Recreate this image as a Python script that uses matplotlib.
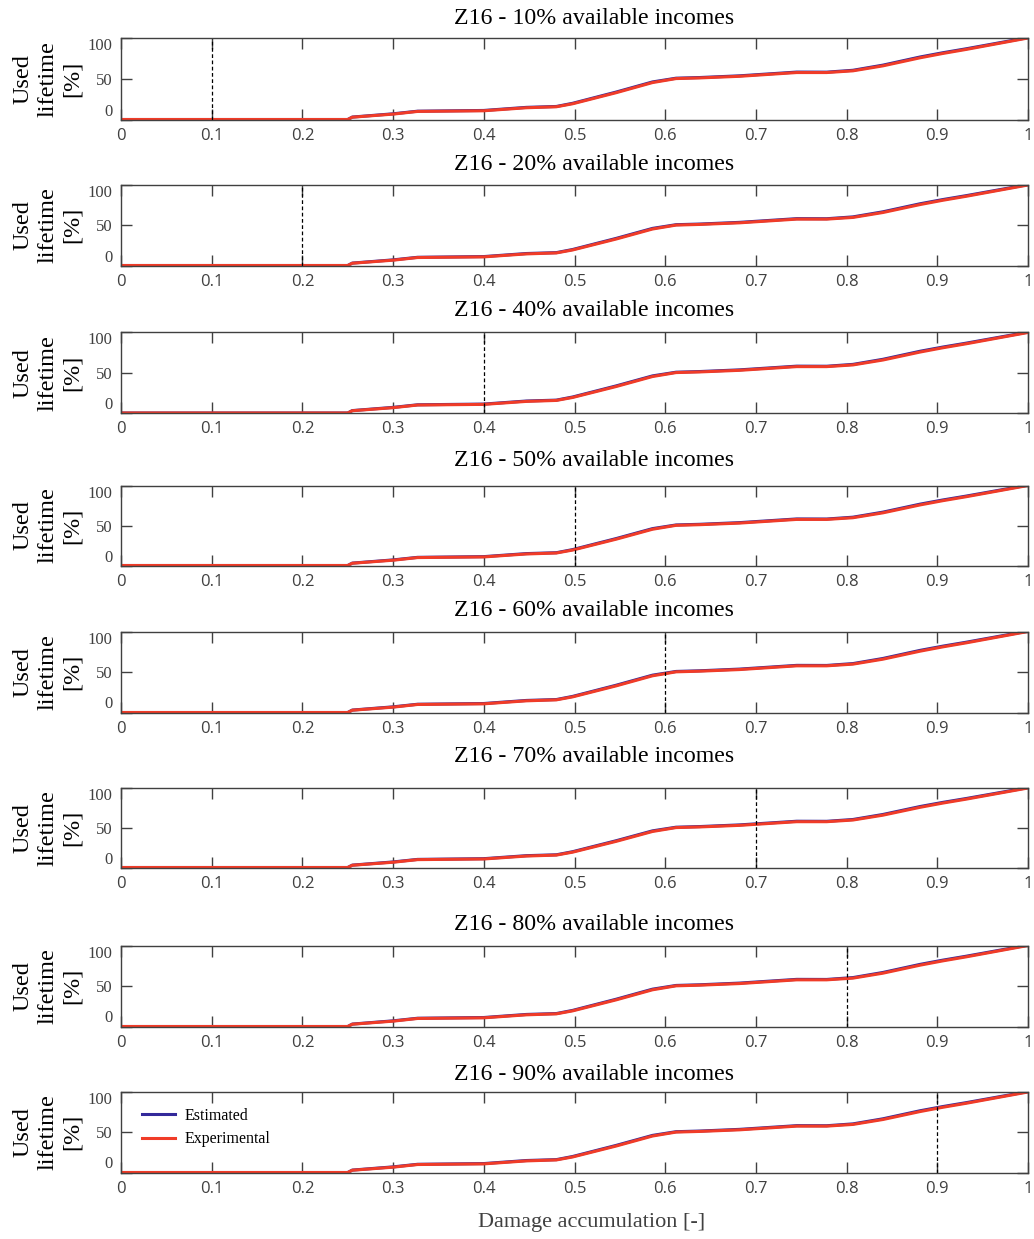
import numpy as np
import matplotlib
matplotlib.use("Agg")
from matplotlib import pyplot as plt

# damage accumulation vs used lifetime (same curve for every income share)
damage = [0, 0.25, 0.255, 0.30, 0.327, 0.40, 0.447, 0.48, 0.498, 0.546, 0.586,
          0.612, 0.638, 0.682, 0.745, 0.778, 0.807, 0.84, 0.881, 0.906, 0.932, 1.0]
experimental = [0, 0, 2.8, 6.6, 9.9, 10.7, 14.4, 15.6, 19.3, 32.9, 45.3,
                50.2, 51.0, 53.0, 57.6, 57.6, 59.7, 65.8, 75.7, 81.0, 86.0, 100]
estimated = [0, 0, 3.0, 7.0, 10.2, 11.1, 14.9, 16.0, 19.9, 33.7, 46.1,
             50.7, 51.5, 53.6, 58.2, 58.1, 60.4, 66.7, 76.7, 81.9, 86.8, 100.5]

incomes = [10, 20, 40, 50, 60, 70, 80, 90]
thresholds = [0.1, 0.2, 0.4, 0.5, 0.6, 0.7, 0.8, 0.9]
xticks = [0, 0.1, 0.2, 0.3, 0.4, 0.5, 0.6, 0.7, 0.8, 0.9, 1]
xticklabels = ["0", "0.1", "0.2", "0.3", "0.4", "0.5", "0.6", "0.7", "0.8", "0.9", "1"]

W, H = 1034, 1239
# axes top/bottom and title centre, in pixels from the top
tops = [38, 185, 332.5, 485.5, 631.5, 788, 945.5, 1092]
bottoms = [119.5, 265.5, 413, 565.5, 712.5, 867.5, 1026.5, 1172.5]
title_y = [19, 164, 311, 461, 611, 756, 924, 1075]
left, right = 121, 1028

SERIF = "Liberation Serif"
SANS = "Open Sans"
GRAY = "#404040"
BLUE = "#33299a"
RED = "#f03c28"

fig = plt.figure(figsize=(W / 100, H / 100), dpi=100)

for i, (pct, thr) in enumerate(zip(incomes, thresholds)):
    ax = fig.add_axes([left / W, 1 - bottoms[i] / H,
                       (right - left) / W, (bottoms[i] - tops[i]) / H])
    ax.plot(damage, estimated, color=BLUE, lw=2.2, label="Estimated")
    ax.plot(damage, experimental, color=RED, lw=2.2, label="Experimental")
    ax.axvline(thr, color="k", ls=(0, (3, 2)), lw=0.9)
    ax.set_xlim(0, 1)
    ax.set_ylim(0, 100)

    ax.set_xticks(xticks)
    ax.set_xticklabels(xticklabels, family=SANS, fontsize=12, color=GRAY)
    ax.set_yticks([0, 50, 100])
    ax.set_yticklabels(["0", "50", "100"], family=SERIF, fontsize=12, color=GRAY)
    ylab = ax.get_yticklabels()
    ylab[0].set_va("bottom")
    ylab[2].set_va("top")
    ax.tick_params(direction="in", length=8, width=1, color=GRAY,
                   top=True, right=True, pad=6)
    for sp in ax.spines.values():
        sp.set_color(GRAY)
        sp.set_linewidth(1)

    ax.set_ylabel("Used\nlifetime\n[%]", family=SERIF, fontsize=17.5,
                  linespacing=1.22)
    ax.yaxis.set_label_coords(-0.042, 0.5)

    fig.text(594 / W, 1 - title_y[i] / H, f"Z16 - {pct}% available incomes",
             family=SERIF, fontsize=17.2, ha="center", va="center")

    if i == len(incomes) - 1:
        ax.legend(loc="upper left", frameon=False, prop={"family": SERIF, "size": 11.5},
                  handlelength=2.1, handletextpad=0.6, borderaxespad=0.6,
                  labelspacing=0.45, bbox_to_anchor=(0.005, 1.0))

fig.text(592 / W, 1 - 1222 / H, "Damage accumulation [-]", family=SERIF,
         fontsize=16, color=GRAY, ha="center", va="center")

fig.savefig("out.png", dpi=100)
